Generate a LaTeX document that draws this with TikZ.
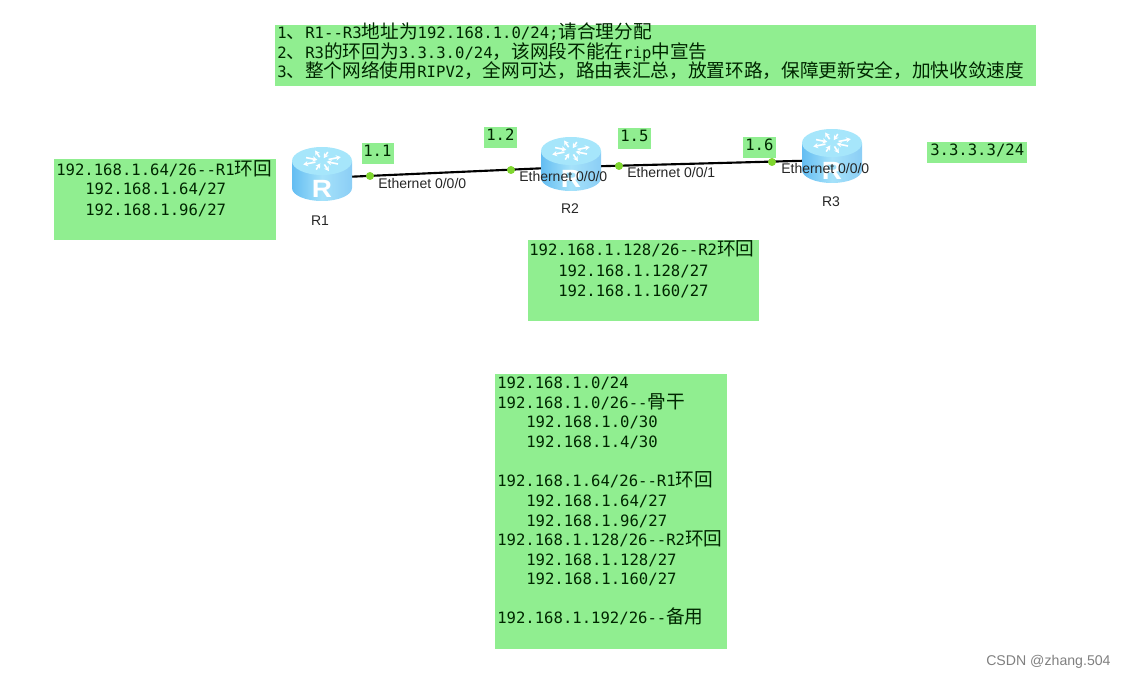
\documentclass[tikz,border=0pt]{standalone}
\usepackage{fontspec}
\setmainfont{Liberation Sans}
\newfontfamily\monof{DejaVu Sans Mono}
\newfontfamily\cjkf{Noto Sans CJK SC}
\usetikzlibrary{arrows.meta}
\definecolor{boxgreen}{HTML}{90EE90}
\definecolor{dotgreen}{HTML}{7FD62F}
\definecolor{rtop}{HTML}{A6E6FB}
\definecolor{rleft}{HTML}{64BDF2}
\definecolor{rmid}{HTML}{A5E2FA}
\newcommand{\cj}[1]{{\cjkf\fontsize{14pt}{15pt}\selectfont #1}}
\tikzset{
  x=0.75pt,y=-0.75pt,
  greenbox/.style={fill=boxgreen},
  monotext/.style={anchor=base west,inner sep=0pt,text=black!85!green,font=\monof\fontsize{11.7pt}{13pt}\selectfont},
  porttext/.style={anchor=base west,inner sep=0pt,text=black!85,font=\fontsize{10.5pt}{12pt}\selectfont},
  routername/.style={anchor=base,inner sep=0pt,text=black!85,font=\fontsize{10.5pt}{12pt}\selectfont},
  portdot/.style={circle,fill=dotgreen,inner sep=0pt,minimum size=6pt},
  link/.style={line width=1.6pt,black},
  routerpoint/.style={inner sep=0pt,minimum size=0pt},
  pics/routericon/.style={code={
    \shade[left color=rleft,right color=rleft!75!white,middle color=rmid]
      (-30,-13) -- (-30,14) arc[start angle=180,end angle=0,x radius=30,y radius=13] -- (30,-13) -- cycle;
    \fill[rtop] (0,-13) ellipse[x radius=30,y radius=14];
    \foreach \a in {20,110,200,290}{
      \draw[white,line width=1.2pt,-{Stealth[length=3.6pt,width=4pt]},yscale=0.55]
        ({17*cos(\a)},{-24+17*sin(\a)}) -- ({5*cos(\a)},{-24+5*sin(\a)});
      \draw[white,line width=1.2pt,-{Stealth[length=3.6pt,width=4pt]},yscale=0.55]
        ({7*cos(\a+50)},{-24+7*sin(\a+50)}) -- ({20*cos(\a+50)},{-24+20*sin(\a+50)});
    }
    \node[inner sep=0pt,text=white,anchor=base,xscale=1.12,font=\bfseries\fontsize{18.7pt}{20pt}\selectfont] at (0,24) {R};
  }}
}
\begin{document}
\begin{tikzpicture}
\useasboundingbox (0,0) rectangle (1126,677);
% boxes
\fill[greenbox] (275,25) rectangle (1036,86);
\fill[greenbox] (54,159) rectangle (276,240);
\fill[greenbox] (362,143) rectangle (394,164);
\fill[greenbox] (484,127) rectangle (517,148);
\fill[greenbox] (618,128) rectangle (651,149);
\fill[greenbox] (743,137) rectangle (776,158);
\fill[greenbox] (927,142) rectangle (1027,163);
\fill[greenbox] (528,240) rectangle (759,321);
\fill[greenbox] (495,374) rectangle (727,649);
% top text
\node[monotext] (t1) at (277,39) {1\cj{、}R1--R3\cj{地址为}192.168.1.0/24;\cj{请合理分配}};
\node[monotext] (t2) at (277,59) {2\cj{、}R3\cj{的环回为}3.3.3.0/24\cj{，该网段不能在}rip\cj{中宣告}};
\node[monotext] (t3) at (277,78) {3\cj{、整个网络使用}RIPV2\cj{，全网可达，路由表汇总，放置环路，保障更新安全，加快收敛速度}};
% routers and links
\node[routerpoint] (R1) at (322,178) {};
\node[routerpoint] (R2) at (571,167) {};
\node[routerpoint] (R3) at (832,160) {};
\draw[link] (R1) -- (R2);
\draw[link] (R2) -- (R3);
\pic at (322,174) {routericon};
\pic at (571,164) {routericon};
\pic at (832,156) {routericon};
\node[routername] (n1) at (320,225) {R1};
\node[routername] (n2) at (570,214) {R2};
\node[routername] (n3) at (831,207) {R3};
% port dots
\node[portdot] (d1) at (370,176) {};
\node[portdot] (d2) at (511,170) {};
\node[portdot] (d3) at (619,166) {};
\node[portdot] (d4) at (772,162) {};
% port labels
\node[porttext] (p1) at (378,189) {Ethernet 0/0/0};
\node[porttext] (p2) at (519,182) {Ethernet 0/0/0};
\node[porttext] (p3) at (627,178) {Ethernet 0/0/1};
\node[porttext] (p4) at (781,174) {Ethernet 0/0/0};
% ip labels
\node[monotext] (ip1) at (363,157) {1.1};
\node[monotext] (ip2) at (486,141) {1.2};
\node[monotext] (ip3) at (620,142) {1.5};
\node[monotext] (ip4) at (745,151) {1.6};
\node[monotext] (ip5) at (930,156) {3.3.3.3/24};
% left box
\node[monotext] (l1) at (56,176) {192.168.1.64/26--R1\cj{环回}};
\node[monotext] (l2) at (85,195) {192.168.1.64/27};
\node[monotext] (l3) at (85,215) {192.168.1.96/27};
% R2 box
\node[monotext] (m1) at (529,255) {192.168.1.128/26--R2\cj{环回}};
\node[monotext] (m2) at (558,276) {192.168.1.128/27};
\node[monotext] (m3) at (558,296) {192.168.1.160/27};
% big box
\node[monotext] (b1) at (497,388) {192.168.1.0/24};
\node[monotext] (b2) at (497,408) {192.168.1.0/26--\cj{骨干}};
\node[monotext] (b3) at (526,427) {192.168.1.0/30};
\node[monotext] (b4) at (526,447) {192.168.1.4/30};
\node[monotext] (b5) at (497,486) {192.168.1.64/26--R1\cj{环回}};
\node[monotext] (b6) at (526,506) {192.168.1.64/27};
\node[monotext] (b7) at (526,526) {192.168.1.96/27};
\node[monotext] (b8) at (497,545) {192.168.1.128/26--R2\cj{环回}};
\node[monotext] (b9) at (526,565) {192.168.1.128/27};
\node[monotext] (b10) at (526,584) {192.168.1.160/27};
\node[monotext] (b11) at (497,623) {192.168.1.192/26--\cj{备用}};
% watermark
\node[anchor=base west,inner sep=0pt,text=black!50,font=\fontsize{10.6pt}{12pt}\selectfont] (wm) at (986,665) {CSDN @zhang.504};
\end{tikzpicture}
\end{document}
